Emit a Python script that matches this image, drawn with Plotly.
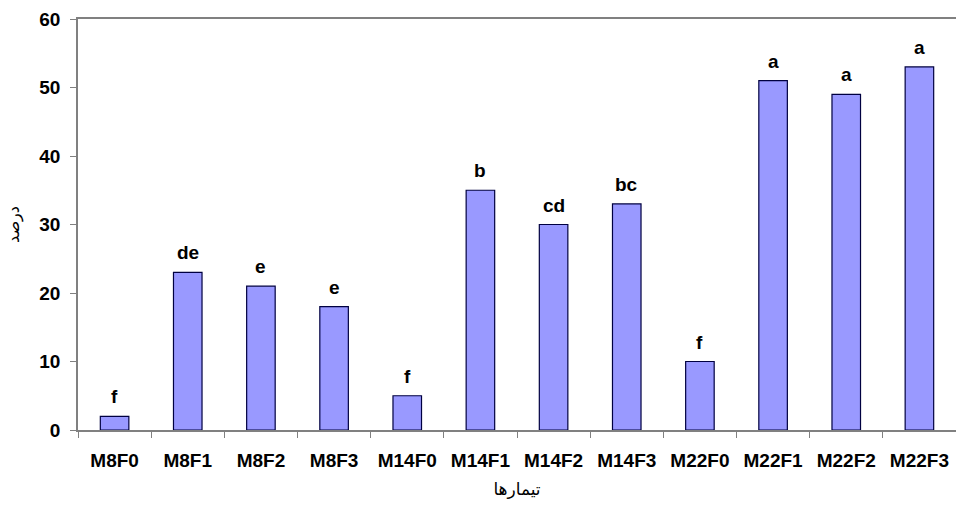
import plotly.graph_objects as go

categories = ["M8F0", "M8F1", "M8F2", "M8F3", "M14F0", "M14F1", "M14F2", "M14F3",
              "M22F0", "M22F1", "M22F2", "M22F3"]
values = [2, 23, 21, 18, 5, 35, 30, 33, 10, 51, 49, 53]
letters = ["f", "de", "e", "e", "f", "b", "cd", "bc", "f", "a", "a", "a"]
y_ticks = [0, 10, 20, 30, 40, 50, 60]

FONT = "Liberation Sans, Arial"

fig = go.Figure()
fig.add_trace(go.Bar(
    x=categories, y=values,
    marker=dict(color="#9999FF", line=dict(color="#000040", width=1.2)),
    width=0.39,
))

for c, v, t in zip(categories, values, letters):
    fig.add_annotation(x=c, y=v, text=t, showarrow=False, yanchor="bottom",
                       yshift=7, font=dict(family=FONT, size=19,
                                           color="black", weight="bold"))

fig.update_layout(
    width=956, height=506,
    margin=dict(l=78, r=0, t=19, b=76),
    plot_bgcolor="white", paper_bgcolor="white",
    showlegend=False,
    xaxis=dict(
        type="category",
        showline=True, linecolor="#808080", linewidth=1.5, mirror=True,
        ticks="outside", tickson="boundaries", ticklen=6, tickcolor="#808080", tickwidth=1,
        showgrid=False,
        ticklabelstandoff=12,
        tickfont=dict(family=FONT, size=19, color="black", weight="bold"),
        title=dict(text="تیمارها", font=dict(family="DejaVu Sans", size=17, color="black"),
                   standoff=14),
        range=[-0.5, 11.5],
    ),
    yaxis=dict(
        range=[0, 60], tickvals=y_ticks,
        showline=True, linecolor="#808080", linewidth=1.5,
        ticks="outside", ticklen=6, tickcolor="#808080",
        showgrid=False, zeroline=False,
        ticklabelstandoff=6,
        tickfont=dict(family=FONT, size=19, color="black", weight="bold"),
        title=dict(text="درصد", font=dict(family="DejaVu Sans", size=16, color="black"),
                   standoff=16),
    ),
)

fig.write_html("out.html")
